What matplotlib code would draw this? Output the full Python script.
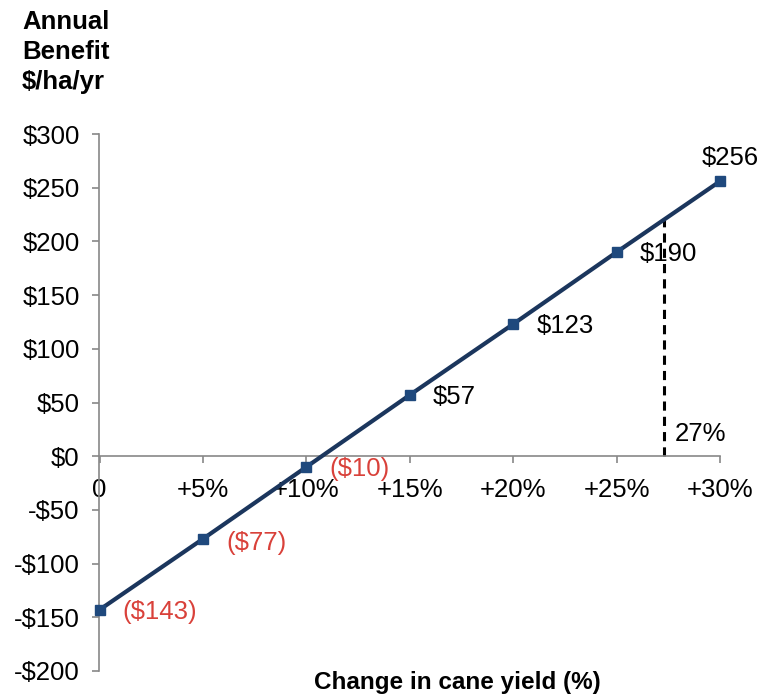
import matplotlib
matplotlib.use("Agg")
import matplotlib.pyplot as plt

plt.rcParams['font.family'] = ['Liberation Sans', 'DejaVu Sans']

yield_change = [0, 5, 10, 15, 20, 25, 30]
benefit = [-143, -77, -10, 57, 123, 190, 256]
value_labels = ["($143)", "($77)", "($10)", "$57", "$123", "$190", "$256"]
x_tick_vals = [0, 5, 10, 15, 20, 25, 30]
x_tick_labels = ["0", "+5%", "+10%", "+15%", "+20%", "+25%", "+30%"]
y_tick_vals = [-200, -150, -100, -50, 0, 50, 100, 150, 200, 250, 300]
y_tick_labels = ["-$200", "-$150", "-$100", "-$50", "$0", "$50", "$100", "$150", "$200", "$250", "$300"]
breakeven_x = 27.3
breakeven_label = "27%"

line_color = "#1B365D"
marker_color = "#1F497D"
red = "#D9413A"
spine_color = "#888888"
fs = 18.5

fig = plt.figure(figsize=(7.67, 6.95), dpi=100)
ax = fig.add_axes([98.5 / 767, 1 - 671 / 695, (720 - 98.5) / 767, (671 - 134) / 695])

ax.plot(yield_change, benefit, color=line_color, lw=3, marker="s",
        markersize=7.5, markerfacecolor=marker_color, markeredgecolor=marker_color,
        zorder=3, clip_on=False)

ax.set_xlim(-0.05, 30)
ax.set_ylim(-200, 300)

# break-even dashed line
slope = (benefit[-1] - benefit[-2]) / (yield_change[-1] - yield_change[-2])
y_at_be = benefit[-2] + slope * (breakeven_x - yield_change[-2])
ax.plot([breakeven_x, breakeven_x], [0, y_at_be], color="black", lw=2.2,
        linestyle=(0, (3, 2)), zorder=2)
ax.annotate(breakeven_label, xy=(breakeven_x, 21), xytext=(11, 0),
            textcoords="offset pixels", ha="left", va="center", fontsize=fs)

# data labels
for i, (x, y, lab) in enumerate(zip(yield_change, benefit, value_labels)):
    col = red if y < 0 else "black"
    if i == len(yield_change) - 1:
        ax.annotate(lab, xy=(x, y), xytext=(10, 23), textcoords="offset pixels",
                    ha="center", va="center", fontsize=fs, color=col)
    else:
        dy = {1: -4}.get(i, -2)
        ax.annotate(lab, xy=(x, y), xytext=(23, dy), textcoords="offset pixels",
                    ha="left", va="center", fontsize=fs, color=col)

# spines
ax.spines["top"].set_visible(False)
ax.spines["right"].set_visible(False)
ax.spines["bottom"].set_position(("data", 0))
ax.spines["left"].set_color(spine_color)
ax.spines["bottom"].set_color(spine_color)
ax.spines["left"].set_linewidth(1.2)
ax.spines["bottom"].set_linewidth(1.2)

ax.set_xticks(x_tick_vals)
ax.set_xticklabels(x_tick_labels)
ax.set_yticks(y_tick_vals)
ax.set_yticklabels(y_tick_labels)
ax.tick_params(axis="x", direction="out", length=5, width=1.2, color=spine_color,
               labelsize=fs, pad=11)
ax.tick_params(axis="y", direction="out", length=5, width=1.2, color=spine_color,
               labelsize=fs, pad=8.5)

fig.text(22 / 767, 1 - 10 / 695, "Annual\nBenefit\n$/ha/yr", ha="left", va="top",
         fontsize=18.5, fontweight="bold", linespacing=1.32)
fig.text(457 / 767, 1 - 682 / 695, "Change in cane yield (%)", ha="center",
         va="center", fontsize=17.5, fontweight="bold")

fig.savefig("out.png", dpi=100)
